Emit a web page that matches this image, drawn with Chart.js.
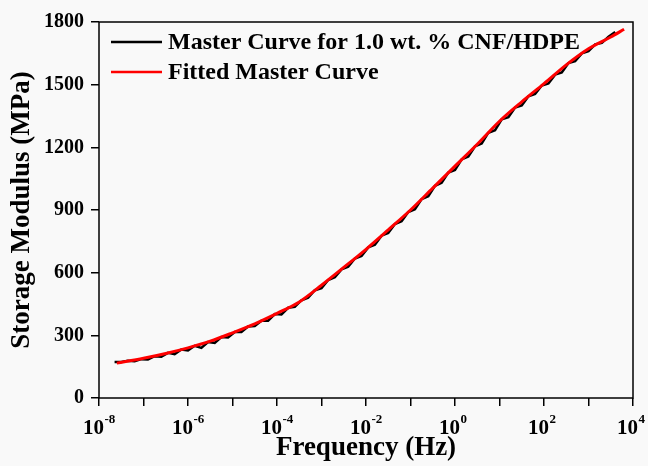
<!DOCTYPE html>
<html>
<head>
<meta charset="utf-8">
<title>Storage Modulus</title>
<script src="https://cdn.jsdelivr.net/npm/chart.js@4/dist/chart.umd.min.js"></script>
<style>
	body { margin: 0; background: #ffffff; }
	#Grafico { display: block; }
</style>
</head>
<body>
<canvas id="Grafico" width="648" height="466"></canvas>
<script>
		// exponentes de la frecuencia (log10 Hz) y modulo (MPa) de la curva maestra
		let maestraExp = [-7.65, -7.5, -7.35, -7.2, -7.05, -6.9, -6.75, -6.6, -6.45, -6.3, -6.15, -6.0,
			-5.85, -5.7, -5.55, -5.4, -5.25, -5.1, -4.95, -4.8, -4.65, -4.5, -4.35, -4.2, -4.05, -3.9,
			-3.75, -3.6, -3.45, -3.3, -3.15, -3.0, -2.85, -2.7, -2.55, -2.4, -2.25, -2.1, -1.95, -1.8,
			-1.65, -1.5, -1.35, -1.2, -1.05, -0.9, -0.75, -0.6, -0.45, -0.3, -0.15, 0, 0.15, 0.3, 0.45,
			0.6, 0.75, 0.9, 1.05, 1.2, 1.35, 1.5, 1.65, 1.8, 1.95, 2.1, 2.25, 2.4, 2.55, 2.7, 2.85, 3.0,
			3.15, 3.3, 3.45, 3.6]
		let maestraMod = [172, 172, 178, 176, 186, 184, 200, 198, 216, 210, 232, 228,
			250, 240, 268, 264, 292, 290, 316, 316, 342, 344, 370, 370, 402, 400,
			432, 436, 468, 480, 516, 526, 565, 578, 616, 628, 668, 680, 721, 734,
			777, 790, 833, 846, 890, 904, 952, 966, 1016, 1030, 1079, 1092, 1142, 1156, 1205,
			1218, 1270, 1282, 1334, 1344, 1390, 1400, 1444, 1456, 1496, 1506, 1548, 1558, 1603, 1612, 1650, 1660,
			1693, 1700, 1729, 1752]

		// curva ajustada
		let ajusteExp = [-7.6, -7.0, -6.5, -6.0, -5.5, -5.0, -4.5, -4.0, -3.5, -3.0, -2.5, -2.0,
			-1.5, -1.0, -0.5, 0.0, 0.5, 1.0, 1.5, 2.0, 2.5, 3.0, 3.5, 3.8]
		let ajusteMod = [167, 190, 213, 240, 272, 312, 355, 405, 460, 540, 625, 712,
			805, 900, 1005, 1110, 1215, 1325, 1418, 1505, 1595, 1672, 1728, 1765]

		// etiquetas de los ejes
		let xTicksExp = [-8, -6, -4, -2, 0, 2, 4]
		let yTicks = [0, 300, 600, 900, 1200, 1500, 1800]
		let leyenda = ['Master Curve for 1.0 wt. % CNF/HDPE', 'Fitted Master Curve']

		const fuente = "'Liberation Serif', 'Times New Roman', serif"

		function puntos(xs, ys){
			return xs.map((x, i) => ({ x: x, y: ys[i] }))
		}

		// dibuja fondo, marco, etiquetas 10^n y la leyenda
		const extras = {
			id: 'extras',
			beforeDraw(chart){
				const ctx = chart.ctx
				ctx.save()
				ctx.fillStyle = '#f9f9f9'
				ctx.fillRect(0, 0, chart.width, chart.height)
				ctx.restore()
			},
			afterDraw(chart){
				const ctx = chart.ctx
				const area = chart.chartArea
				const xs = chart.scales.x
				ctx.save()
				// marco
				ctx.strokeStyle = '#000'
				ctx.lineWidth = 1.5
				ctx.strokeRect(area.left, area.top, area.right - area.left, area.bottom - area.top)

				// etiquetas del eje x
				ctx.fillStyle = '#000'
				xTicksExp.forEach(e => {
					const px = xs.getPixelForValue(e)
					ctx.font = 'bold 21px ' + fuente
					ctx.textAlign = 'right'
					ctx.textBaseline = 'alphabetic'
					ctx.fillText('10', px + 5, 434)
					ctx.font = 'bold 13px ' + fuente
					ctx.textAlign = 'left'
					ctx.fillText(String(e), px + 5.5, 423)
				})

				// leyenda
				const colores = ['#000000', '#ff0000']
				leyenda.forEach((txt, i) => {
					const y = 42 + i * 30
					ctx.strokeStyle = colores[i]
					ctx.lineWidth = 2.5
					ctx.beginPath()
					ctx.moveTo(111, y)
					ctx.lineTo(162, y)
					ctx.stroke()
					ctx.font = 'bold 24px ' + fuente
					ctx.textAlign = 'left'
					ctx.textBaseline = 'middle'
					ctx.fillStyle = '#000'
					ctx.fillText(txt, 168, y + 1)
				})
				ctx.restore()
			}
		}

		const config = {
			type: 'line',
			data: {
				datasets: [{
					label: leyenda[0],
					data: puntos(maestraExp, maestraMod),
					borderColor: '#000000',
					borderWidth: 2.5,
					pointRadius: 0,
					tension: 0,
					order: 2
				}, {
					label: leyenda[1],
					data: puntos(ajusteExp, ajusteMod),
					borderColor: '#ff0000',
					borderWidth: 3,
					pointRadius: 0,
					cubicInterpolationMode: 'monotone',
					order: 1
				}]
			},
			options: {
				responsive: false,
				animation: false,
				layout: { padding: { top: 22, right: 15, left: 0, bottom: 0 } },
				plugins: {
					legend: { display: false },
					tooltip: { enabled: false }
				},
				scales: {
					x: {
						type: 'linear',
						min: -8,
						max: 4,
						ticks: {
							stepSize: 1,
							callback: () => ''
						},
						grid: { drawOnChartArea: false, drawTicks: true, tickLength: 8, color: '#000', lineWidth: 1.5 },
						border: { display: false },
						title: {
							display: true,
							text: 'Frequency (Hz)',
							color: '#000',
							font: { family: fuente, size: 27, weight: 'bold' },
							padding: { top: 0, bottom: 2 }
						},
						afterFit(scale){ scale.height = 68 }
					},
					y: {
						min: 0,
						max: 1800,
						afterBuildTicks(scale){ scale.ticks = yTicks.map(v => ({ value: v })) },
						ticks: {
							color: '#000',
							padding: 7,
							font: { family: fuente, size: 20, weight: 'bold' },
							callback: v => String(v)
						},
						grid: { drawOnChartArea: false, drawTicks: true, tickLength: 8, color: '#000', lineWidth: 1.5 },
						border: { display: false },
						title: {
							display: true,
							text: 'Storage Modulus (MPa)',
							color: '#000',
							font: { family: fuente, size: 27, weight: 'bold' },
							padding: { top: 6, bottom: 0 }
						},
						afterFit(scale){ scale.width = 99 }
					}
				}
			},
			plugins: [extras]
		}

		let grafico = new Chart(document.querySelector('#Grafico'), config)
</script>
</body>
</html>
